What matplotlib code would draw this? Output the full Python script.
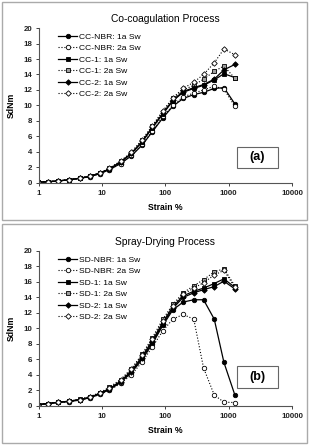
import matplotlib
matplotlib.use('Agg')
import matplotlib.pyplot as plt
from matplotlib.patches import Rectangle

plt.rcParams['font.family'] = ['Liberation Sans', 'DejaVu Sans']

# strain values (%) shared by all curves
strain = [0.95, 1.4, 2.0, 3.0, 4.4, 6.4, 9.2, 13, 19.5, 29, 43, 62, 91, 131, 190, 280, 400, 590, 840, 1250]

# (a) co-coagulation
cc_nbr_1a = [0.08, 0.15, 0.25, 0.4, 0.6, 0.8, 1.2, 1.7, 2.5, 3.5, 4.9, 6.6, 8.4, 9.9, 10.9, 11.4, 11.7, 12.2, 12.3, 10.2]
cc_nbr_2a = [0.08, 0.15, 0.25, 0.4, 0.6, 0.8, 1.2, 1.7, 2.5, 3.6, 5.0, 6.7, 8.6, 10.0, 11.1, 11.6, 12.0, 12.5, 12.1, 9.9]
cc_1_1a = [0.08, 0.15, 0.25, 0.4, 0.6, 0.85, 1.25, 1.8, 2.7, 3.8, 5.3, 7.1, 8.9, 10.6, 11.7, 12.2, 12.6, 13.3, 14.1, 13.6]
cc_1_2a = [0.08, 0.15, 0.25, 0.4, 0.6, 0.9, 1.3, 1.9, 2.8, 3.9, 5.5, 7.3, 9.2, 10.9, 12.0, 12.6, 13.4, 14.4, 15.1, 13.5]
cc_2_1a = [0.08, 0.15, 0.25, 0.4, 0.6, 0.85, 1.25, 1.8, 2.7, 3.8, 5.4, 7.2, 9.0, 10.7, 11.8, 12.3, 12.7, 13.4, 14.6, 15.3]
cc_2_2a = [0.08, 0.15, 0.25, 0.4, 0.6, 0.9, 1.3, 1.9, 2.8, 4.0, 5.6, 7.4, 9.3, 11.0, 12.2, 13.0, 14.0, 15.5, 17.3, 16.55]

# (b) spray-drying
sd_nbr_1a = [0.15, 0.3, 0.45, 0.55, 0.75, 1.05, 1.5, 2.1, 3.0, 4.3, 6.0, 8.0, 10.4, 12.4, 13.4, 13.7, 13.7, 11.2, 5.6, 1.4]
sd_nbr_2a = [0.15, 0.3, 0.45, 0.55, 0.75, 1.0, 1.5, 2.0, 2.9, 4.0, 5.7, 7.6, 9.7, 11.2, 11.8, 11.2, 4.9, 1.4, 0.47, 0.43]
sd_1_1a = [0.15, 0.3, 0.45, 0.6, 0.8, 1.1, 1.6, 2.2, 3.2, 4.5, 6.4, 8.4, 10.8, 12.8, 14.2, 14.8, 15.2, 15.8, 16.4, 15.3]
sd_1_2a = [0.15, 0.3, 0.45, 0.6, 0.85, 1.2, 1.7, 2.4, 3.4, 4.8, 6.7, 8.8, 11.2, 13.1, 14.6, 15.5, 16.3, 17.3, 17.7, 15.5]
sd_2_1a = [0.15, 0.3, 0.45, 0.6, 0.8, 1.1, 1.6, 2.2, 3.1, 4.4, 6.2, 8.2, 10.6, 12.6, 14.0, 14.6, 15.0, 15.4, 16.1, 15.1]
sd_2_2a = [0.15, 0.3, 0.45, 0.6, 0.8, 1.15, 1.7, 2.3, 3.3, 4.7, 6.6, 8.6, 11.0, 12.9, 14.4, 15.2, 15.9, 16.9, 17.5, 15.3]

labels_a = ['CC-NBR: 1a Sw', 'CC-NBR: 2a Sw', 'CC-1: 1a Sw', 'CC-1: 2a Sw', 'CC-2: 1a Sw', 'CC-2: 2a Sw']
labels_b = ['SD-NBR: 1a Sw', 'SD-NBR: 2a Sw', 'SD-1: 1a Sw', 'SD-1: 2a Sw', 'SD-2: 1a Sw', 'SD-2: 2a Sw']

# marker style per series position: (marker, facecolor, linestyle, size)
styles = [
  ('o', 'black', '-', 3.2),
  ('o', 'white', ':', 3.2),
  ('s', 'black', '-', 3.0),
  ('s', '#a0a0a0', ':', 3.0),
  ('D', 'black', '-', 2.8),
  ('D', 'white', ':', 2.8),
]


def draw_panel(fig, rect, title, series, labels, tag, tag_box):
  ax = fig.add_axes(rect)
  for ys, lab, (m, fc, ls, ms) in zip(series, labels, styles):
    ax.plot(strain, ys, color='black', lw=0.9 if ls == '-' else 0.8, ls=ls,
            marker=m, mfc=fc, mec='black', mew=0.6, ms=ms, label=lab)
  ax.set_xscale('log')
  ax.set_xlim(1, 10000)
  ax.set_ylim(0, 20)
  ax.set_yticks(range(0, 21, 2))
  ax.set_xticks([1, 10, 100, 1000, 10000])
  ax.set_xticklabels(['1', '10', '100', '1000', '10000'])
  ax.minorticks_off()
  for s in ['top', 'right']:
    ax.spines[s].set_visible(False)
  for s in ['left', 'bottom']:
    ax.spines[s].set_color('#555555')
    ax.spines[s].set_linewidth(0.8)
  ax.tick_params(direction='out', length=2.5, width=0.6, labelsize=5.7, pad=2.5, colors='#222222')
  for t in ax.get_xticklabels() + ax.get_yticklabels():
    t.set_fontweight('bold')
  ax.set_title(title, fontsize=7.4, pad=4)
  ax.set_xlabel('Strain %', fontsize=6.2, fontweight='bold', labelpad=4.5)
  ax.set_ylabel('SdNm', fontsize=6.2, fontweight='bold', labelpad=5)
  ax.legend(loc='upper left', bbox_to_anchor=(0.075, 0.97), frameon=False, fontsize=6.1,
            labelspacing=0.42, handlelength=2.3, handletextpad=0.2, borderpad=0,
            borderaxespad=0)
  x0, y0, x1, y1 = tag_box
  ax.add_patch(Rectangle((x0, y0), x1 - x0, y1 - y0, transform=ax.transAxes,
                         fc='white', ec='#666666', lw=0.8, clip_on=False))
  ax.text((x0 + x1) / 2, (y0 + y1) / 2, tag, transform=ax.transAxes, ha='center',
          va='center', fontsize=9, fontweight='bold')
  return ax


fig = plt.figure(figsize=(3.09, 4.45), dpi=100)

# outer panel frames
fig.patches.append(Rectangle((0.006, 0.505), 0.988, 0.49, transform=fig.transFigure,
                             fill=False, ec='#aaaaaa', lw=1.0))
fig.patches.append(Rectangle((0.006, 0.005), 0.988, 0.492, transform=fig.transFigure,
                             fill=False, ec='#aaaaaa', lw=1.0))

draw_panel(fig, [0.126, 0.589, 0.819, 0.348], 'Co-coagulation Process',
           [cc_nbr_1a, cc_nbr_2a, cc_1_1a, cc_1_2a, cc_2_1a, cc_2_2a], labels_a, '(a)',
           (0.783, 0.097, 0.945, 0.232))
draw_panel(fig, [0.126, 0.088, 0.819, 0.348], 'Spray-Drying Process',
           [sd_nbr_1a, sd_nbr_2a, sd_1_1a, sd_1_2a, sd_2_1a, sd_2_2a], labels_b, '(b)',
           (0.783, 0.116, 0.945, 0.258))

fig.savefig('out.png', dpi=100)
